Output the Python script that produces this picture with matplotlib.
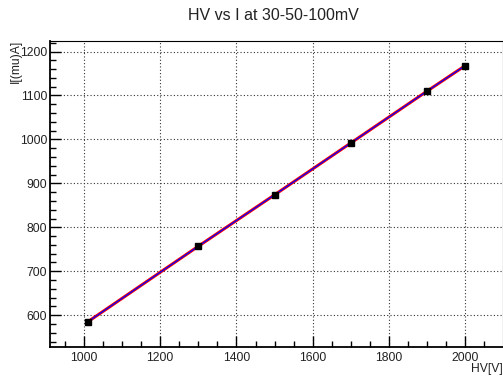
import matplotlib
matplotlib.use('Agg')
import matplotlib.pyplot as plt
from matplotlib.ticker import MultipleLocator

# data
hv = [1010, 1300, 1500, 1700, 1900, 2000]
current = [585, 757, 874, 992, 1110, 1168]

plt.rcParams['font.family'] = ['Liberation Sans', 'DejaVu Sans']

fig = plt.figure(figsize=(5.03, 3.79), dpi=100)
ax = fig.add_axes([50 / 503, 32 / 379, 453 / 503, 306 / 379])

# fit line (red) with graph line (blue) on top
ax.plot(hv, current, color='red', lw=2.2, zorder=3)
ax.plot(hv, current, color='blue', lw=0.9, zorder=4)
ax.plot(hv, current, 's', color='black', ms=4.5, zorder=5)

ax.set_xlim(911, 2099)
ax.set_ylim(527.7, 1224)

ax.xaxis.set_major_locator(MultipleLocator(200))
ax.xaxis.set_minor_locator(MultipleLocator(50))
ax.yaxis.set_major_locator(MultipleLocator(100))
ax.yaxis.set_minor_locator(MultipleLocator(20))

ax.grid(True, which='major', color='#333333', linestyle=(0, (1, 2)), lw=0.8)
ax.tick_params(which='both', direction='in', top=False, right=False,
               labelsize=8.7, color='black', labelcolor='#222222')
ax.tick_params(which='major', length=8, width=1)
ax.tick_params(which='minor', length=4, width=1)
ax.tick_params(axis='x', pad=3.5)
ax.tick_params(axis='y', pad=2)

for s in ['left', 'bottom']:
    ax.spines[s].set_linewidth(1.3)
for s in ['top', 'right']:
    ax.spines[s].set_linewidth(0.8)

fig.text(273 / 503, 1 - 15 / 379, 'HV vs I at 30-50-100mV',
         ha='center', va='center', fontsize=11.5, color='#222222')
fig.text(503 / 503, 1 - 369 / 379, 'HV[V]', ha='right', va='center',
         fontsize=8.7, color='#222222')
fig.text(16 / 503, 1 - 40 / 379, 'I[(mu)A]', ha='center', va='top',
         rotation=90, fontsize=8.7, color='#222222')

fig.savefig('out.png', dpi=100)
